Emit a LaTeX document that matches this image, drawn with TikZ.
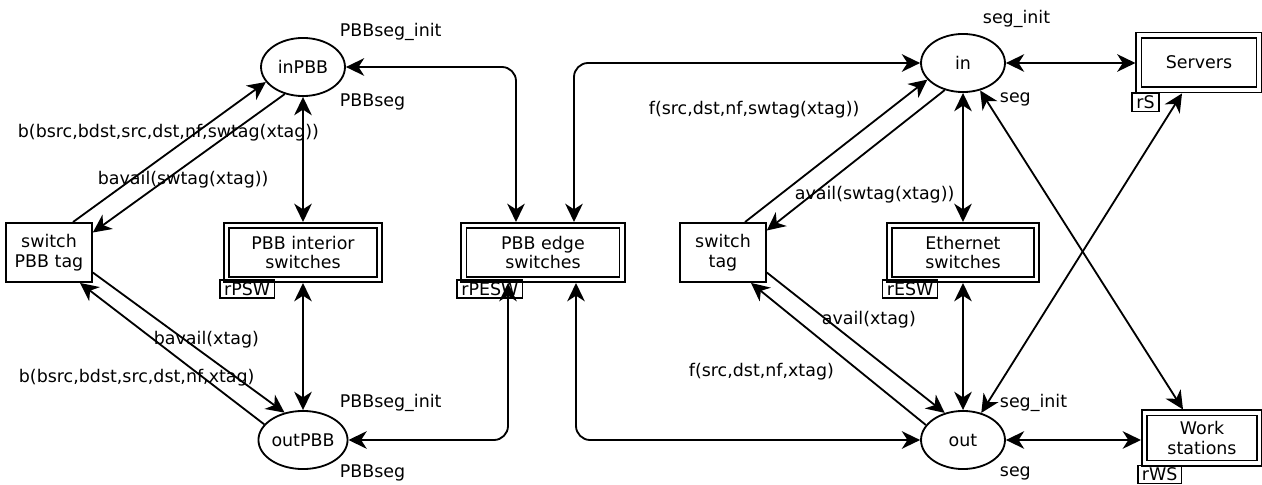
\documentclass[tikz,border=0pt]{standalone}
\usepackage{fontspec}
\setmainfont{DejaVu Sans}
\usetikzlibrary{shapes.geometric,arrows.meta,calc}

\tikzset{
  place/.style={ellipse, draw, minimum width=59.7pt, minimum height=41.3pt, inner sep=0pt},
  trans/.style={rectangle, draw, minimum width=61pt, minimum height=42pt, inner sep=0pt, align=center},
  res/.style={rectangle, draw, double, double distance=2.4pt, outer sep=2.5pt, inner sep=0pt, minimum height=38.4pt, align=center},
  resname/.style={rectangle, draw, line width=1.1pt, inner xsep=3pt, inner ysep=1.8pt, anchor=north west},
  lbl/.style={anchor=west, inner sep=0pt},
  flow/.style={-{Stealth[length=13pt, width=12.5pt, inset=4pt]}},
  biflow/.style={{Stealth[length=13pt, width=12.5pt, inset=4pt]}-{Stealth[length=13pt, width=12.5pt, inset=4pt]}, rounded corners=10pt},
}

\begin{document}
\begin{tikzpicture}[x=0.025cm, y=-0.025cm, line width=1.3pt,
    font=\fontsize{12.4}{14.2}\selectfont]
  \useasboundingbox (0,0) rectangle (1262,485);

  % places
  \node[place] (inPBB) at (303,67) {inPBB};
  \node[place] (outPBB) at (303,440) {outPBB};
  \node[place] (in) at (963,63) {in};
  \node[place] (out) at (963,440) {out};

  % transitions
  \node[trans] (swPBB) at (49,252.5) {switch\\PBB tag};
  \node[trans] (swtag) at (723,252.5) {switch\\tag};

  % resources
  \node[res, minimum width=108.5pt] (interior) at (303,252.5) {PBB interior\\switches};
  \node[res, minimum width=112.4pt] (edge) at (543,252.5) {PBB edge\\switches};
  \node[res, minimum width=104.6pt] (eth) at (963,252.5) {Ethernet\\switches};
  \node[res, minimum width=85.4pt, minimum height=39pt] (servers) at (1199,62.5) {Servers};
  \node[res, minimum width=81.8pt, minimum height=35.6pt] (ws) at (1202,438) {Work\\stations};

  \node[resname] (rPSW) at ($(interior.south west)+(-4,-4)$) {rPSW};
  \node[resname] (rPESW) at ($(edge.south west)+(-4,-4)$) {rPESW};
  \node[resname] (rESW) at ($(eth.south west)+(-4,-4)$) {rESW};
  \node[resname] (rS) at ($(servers.south west)+(-4,-1)$) {rS};
  \node[resname] (rWS) at ($(ws.south west)+(-4,-2)$) {rWS};

  % segment arcs
  \draw[biflow] (inPBB.east) -| ($(edge.north)+(-27,0)$);
  \draw[biflow] (in.west) -| ($(edge.north)+(31,0)$);
  \draw[biflow] (outPBB.east) -| ($(edge.south)+(-35,0)$);
  \draw[biflow] (out.west) -| ($(edge.south)+(33,0)$);

  \draw[biflow] (inPBB) -- (interior);
  \draw[biflow] (interior) -- (outPBB);
  \draw[biflow] (in) -- (eth);
  \draw[biflow] (eth) -- (out);
  \draw[biflow] (in.east) -- (in.east -| servers.west);
  \draw[biflow] (out.east) -- (out.east -| ws.west);
  \draw[biflow] (out.56) -- ($(servers.south)+(-17,0)$);
  \draw[biflow] (in.302) -- ($(ws.north)+(-19,0)$);

  % tag arcs
  \draw[flow] ($(swPBB.north)+(24,0)$) -- (inPBB.202);
  \draw[flow] (inPBB.236) -- ($(swPBB.east)+(0,-20)$);
  \draw[flow] ($(swPBB.east)+(0,20)$) -- (outPBB.124);
  \draw[flow] (outPBB.158) -- ($(swPBB.south)+(31,0)$);

  \draw[flow] ($(swtag.north)+(22,0)$) -- (in.205);
  \draw[flow] (in.236) -- ($(swtag.east)+(0,-22)$);
  \draw[flow] ($(swtag.east)+(0,20)$) -- (out.124);
  \draw[flow] (out.158) -- ($(swtag.south)+(28,0)$);

  % inscriptions
  \node[lbl] (l1) at (339,32) {PBBseg\_init};
  \node[lbl] (l2) at (339,102) {PBBseg};
  \node[lbl] (l3) at (339,403) {PBBseg\_init};
  \node[lbl] (l4) at (339,473) {PBBseg};
  \node[lbl] (l5) at (982,19) {seg\_init};
  \node[lbl] (l6) at (999,99) {seg};
  \node[lbl] (l7) at (999,403) {seg\_init};
  \node[lbl] (l8) at (999,473) {seg};
  \node[lbl] (l9) at (17,133) {b(bsrc,bdst,src,dst,nf,swtag(xtag))};
  \node[lbl] (l10) at (97,180) {bavail(swtag(xtag))};
  \node[lbl] (l11) at (153,340) {bavail(xtag)};
  \node[lbl] (l12) at (18,378) {b(bsrc,bdst,src,dst,nf,xtag)};
  \node[lbl] (l13) at (648,110) {f(src,dst,nf,swtag(xtag))};
  \node[lbl] (l14) at (794,195) {avail(swtag(xtag))};
  \node[lbl] (l15) at (821,320) {avail(xtag)};
  \node[lbl] (l16) at (688,372) {f(src,dst,nf,xtag)};
\end{tikzpicture}
\end{document}
